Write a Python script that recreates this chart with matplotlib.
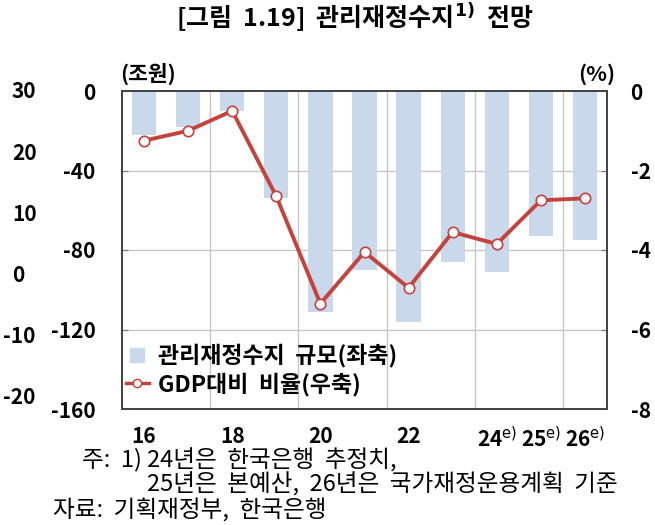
import matplotlib
matplotlib.use("Agg")
import matplotlib.pyplot as plt
import matplotlib.transforms as mtransforms
from matplotlib.lines import Line2D

plt.rcParams['font.family'] = ['Noto Sans CJK KR', 'DejaVu Sans']
plt.rcParams['mathtext.fontset'] = 'dejavusans'

# ---- data ----
years = ['16', '17', '18', '19', '20', '21', '22', '23', '24', '25', '26']
xtick_labels = ['16', '', '18', '', '20', '', '22', '',
                '24$^{\\mathrm{e)}}$', '25$^{\\mathrm{e)}}$', '26$^{\\mathrm{e)}}$']
balance = [-22, -18, -10, -54, -111, -90, -116, -86, -91, -73, -75]      # 조원 (left)
ratio = [-1.25, -1.0, -0.5, -2.65, -5.35, -4.05, -4.95, -3.55, -3.85, -2.75, -2.7]  # % (right)
left_ticks = [0, -40, -80, -120, -160]
right_ticks = [0, -2, -4, -6, -8]
stray_ticks = [30, 20, 10, 0, -10, -20]

bar_color = '#c9d8eb'
line_color = '#c3443f'

W, H = 655, 525
fig = plt.figure(figsize=(W / 100, H / 100), dpi=100)
ax = fig.add_axes([122 / W, 1 - 409 / H, (607 - 122) / W, (409 - 91) / H])
ax2 = ax.twinx()
ax3 = fig.add_axes(ax.get_position(), frameon=False)
ax3.set_xticks([]); ax3.set_yticks([])
ax3.set_ylim(-21.8, 30.15)

x = list(range(len(years)))
ax.bar(x, balance, width=0.55, color=bar_color, zorder=2)
ax2.plot(x, ratio, color=line_color, lw=2.8, marker='o', ms=7.5,
         markerfacecolor='white', markeredgecolor=line_color, markeredgewidth=1.2, zorder=3)

ax.set_xlim(-0.5, len(years) - 0.5)
ax.set_ylim(-160, 0)
ax2.set_ylim(-8, 0)

# gridlines
for gx in [1.5, 3.5, 5.5, 7.5, 9.5]:
    ax.axvline(gx, color='#c4c4c4', lw=0.9, zorder=1)
for gy in [-40, -80, -120]:
    ax.axhline(gy, color='#c4c4c4', lw=0.9, zorder=1)

ax.set_yticks(left_ticks)
ax.set_yticklabels([str(v) for v in left_ticks])
ax2.set_yticks(right_ticks)
ax2.set_yticklabels([str(v) for v in right_ticks])
for lab in ax2.get_yticklabels():
    lab.set_horizontalalignment('left')

ax.set_xticks(x)
ax.set_xticklabels(xtick_labels)
ax.tick_params(axis='x', length=0, pad=12, labelsize=15)
ax.tick_params(axis='y', direction='in', length=4, pad=19, labelsize=15, color='#777777')
ax2.tick_params(axis='y', direction='in', length=4, pad=17, labelsize=15, color='#777777')
for a in (ax, ax2):
    for lab in a.get_xticklabels() + a.get_yticklabels():
        lab.set_fontweight('bold')
for a in (ax, ax2):
    for s in a.spines.values():
        s.set_color('#444444'); s.set_linewidth(1.3)

# stray axis labels on the far left
tr = mtransforms.blended_transform_factory(fig.transFigure, ax3.transData)
for v in stray_ticks:
    xpos = (12 if v >= 0 else 3) / W
    fig.text(xpos, v, str(v), transform=tr, ha='left', va='center',
             fontsize=15, fontweight='bold')

# unit labels
fig.text(120 / W, 1 - 74 / H, '(조원)', ha='left', va='center', fontsize=15.5, fontweight='bold')
fig.text(615 / W, 1 - 74 / H, '(%)', ha='right', va='center', fontsize=15.5, fontweight='bold')

# title
fig.text(355 / W, 1 - 18 / H, '[그림  1.19]  관리재정수지$^{\\mathbf{1)}}$  전망', ha='center', va='center',
         fontsize=18, fontweight='bold')

# legend
handles = [
    Line2D([0], [0], marker='s', color='none', markerfacecolor=bar_color,
           markeredgecolor=bar_color, ms=10),
    Line2D([0], [0], color=line_color, lw=2.5, marker='o', ms=6,
           markerfacecolor='white', markeredgecolor=line_color),
]
leg = ax.legend(handles, ['관리재정수지  규모(좌축)', 'GDP대비  비율(우축)'],
                loc='upper left', bbox_to_anchor=(-0.025, 0.255), frameon=False,
                prop={'weight': 'bold', 'size': 16.5}, handlelength=1.0,
                handletextpad=0.4, labelspacing=0.2, borderaxespad=0.3)
leg.set_zorder(5)

# footnotes
fig.text(82 / W, 1 - 460 / H, '주:  1) 24년은  한국은행  추정치,', ha='left', va='center', fontsize=17)
fig.text(147 / W, 1 - 485 / H, '25년은  본예산,  26년은  국가재정운용계획  기준', ha='left', va='center', fontsize=17)
fig.text(53 / W, 1 - 510 / H, '자료:  기획재정부,  한국은행', ha='left', va='center', fontsize=17)

fig.savefig('out.png', dpi=100)
